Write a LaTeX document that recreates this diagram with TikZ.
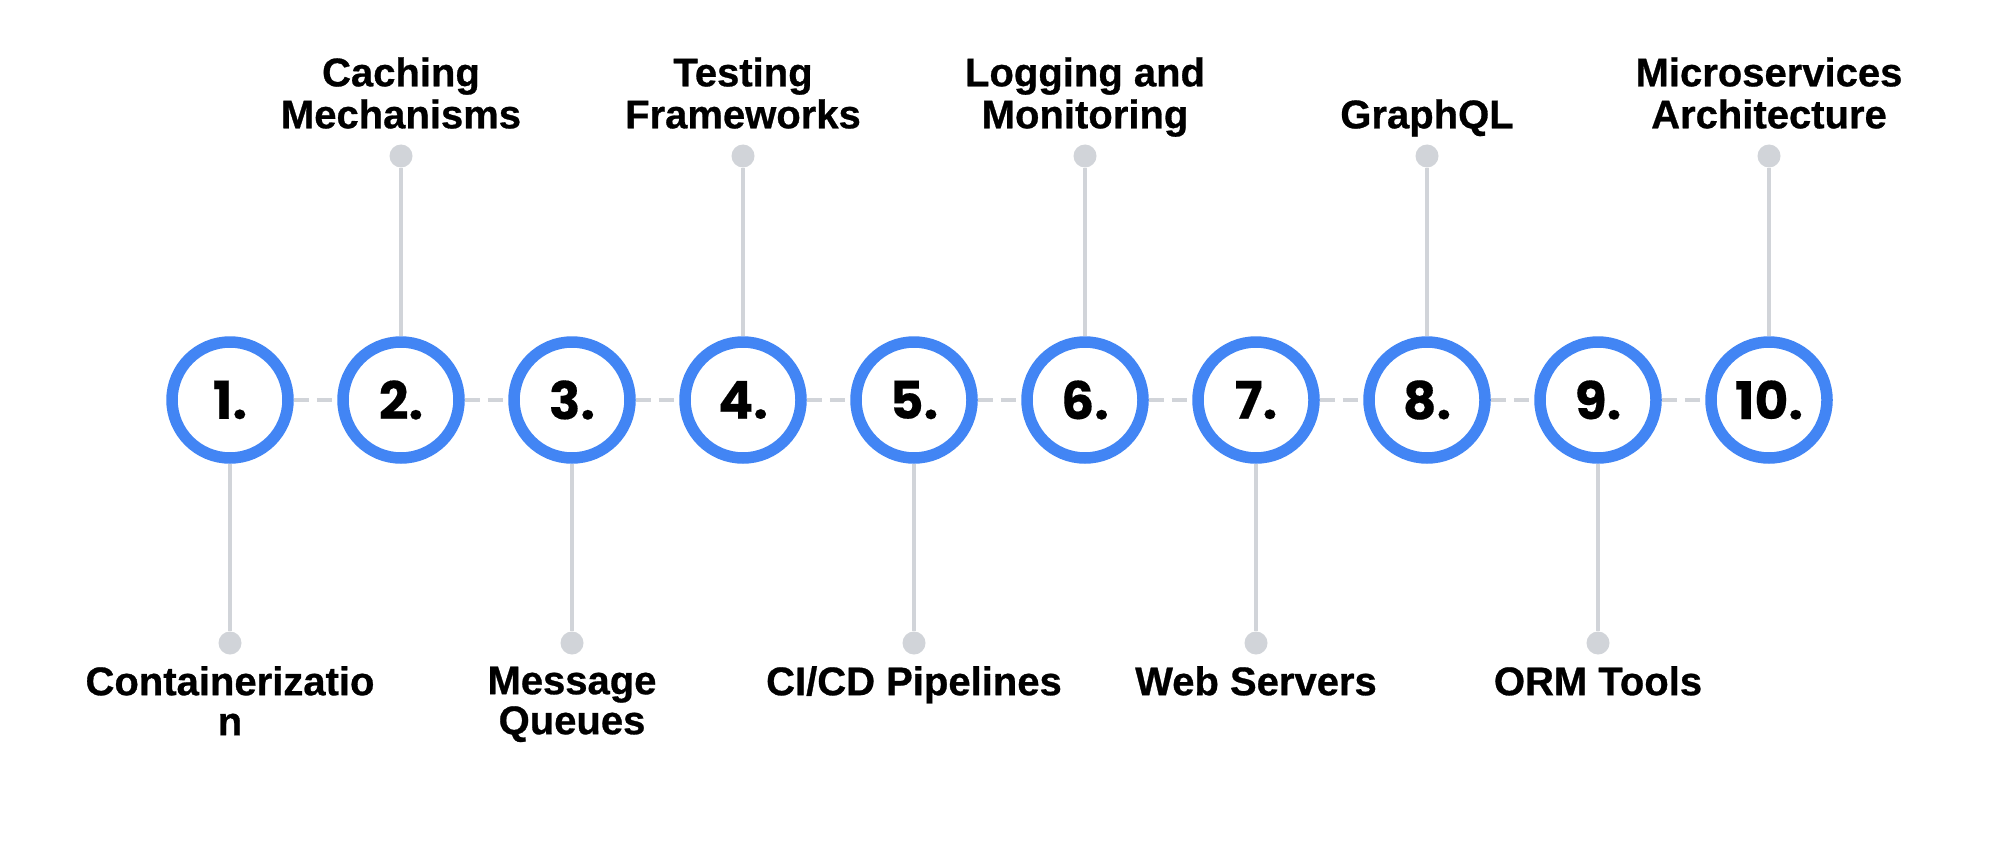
\documentclass[tikz,border=0pt]{standalone}
\usepackage{fontspec}
\setmainfont{Liberation Sans}
\newfontfamily\labelfont{Liberation Sans}[BoldFeatures={FakeBold=0.7}]
\newfontfamily\numfont{Poppins}[BoldFeatures={FakeBold=0.3}]
\definecolor{ringblue}{HTML}{4285F4}
\definecolor{stemgray}{HTML}{D1D4D9}
\begin{document}
\begin{tikzpicture}[x=1pt,y=-1pt,
  ring/.style={circle, draw=ringblue, fill=white, line width=11.5pt, minimum size=116pt, inner sep=0pt,
    font=\numfont\bfseries\fontsize{52}{52}\selectfont},
  dotnode/.style={circle, fill=stemgray, minimum size=23pt, inner sep=0pt},
  stem/.style={draw=stemgray, line width=4pt},
  link/.style={draw=stemgray, line width=4pt, dash pattern=on 15pt off 8pt},
  toplabel/.style={anchor=south, inner sep=0pt, align=center, font=\labelfont\bfseries\fontsize{40}{40}\selectfont},
  botlabel/.style={anchor=north, inner sep=0pt, align=center, font=\labelfont\bfseries\fontsize{40}{40}\selectfont}]
\useasboundingbox[fill=white] (0,0) rectangle (2000,848);
% circles
\foreach \i/\x in {1/230,2/401,3/572,4/743,5/914,6/1085,7/1256,8/1427,9/1598,10/1769}{
  \node[ring] (c\i) at (\x,400) {\i.};
}
% dashed links
\foreach \i in {1,...,9}{
  \pgfmathtruncatemacro\j{\i+1}
  \draw[link] (c\i) -- (c\j);
}
% top dots (even)
\foreach \i/\x in {2/401,4/743,6/1085,8/1427,10/1769}{
  \node[dotnode] (d\i) at (\x,156) {};
  \draw[stem] (d\i) -- (c\i);
}
% bottom dots (odd)
\foreach \i/\x in {1/230,3/572,5/914,7/1256,9/1598}{
  \node[dotnode] (d\i) at (\x,643) {};
  \draw[stem] (d\i) -- (c\i);
}
% top labels
\node[toplabel] (t2) at (401,140.5) {\strut Caching\\\strut Mechanisms};
\node[toplabel] (t4) at (743,140.5) {\strut Testing\\\strut Frameworks};
\node[toplabel] (t6) at (1085,140.5) {\strut Logging and\\\strut Monitoring};
\node[toplabel] (t8) at (1427,140.5) {\strut GraphQL};
\node[toplabel] (t10) at (1769,140.5) {\strut Microservices\\\strut Architecture};
% bottom labels
\node[botlabel] (b1) at (230,666) {\strut Containerizatio\\\strut n};
\node[botlabel] (b3) at (572,666) {\strut Message\\\strut Queues};
\node[botlabel] (b5) at (914,666) {\strut CI/CD Pipelines};
\node[botlabel] (b7) at (1256,666) {\strut Web Servers};
\node[botlabel] (b9) at (1598,666) {\strut ORM Tools};
\end{tikzpicture}
\end{document}
